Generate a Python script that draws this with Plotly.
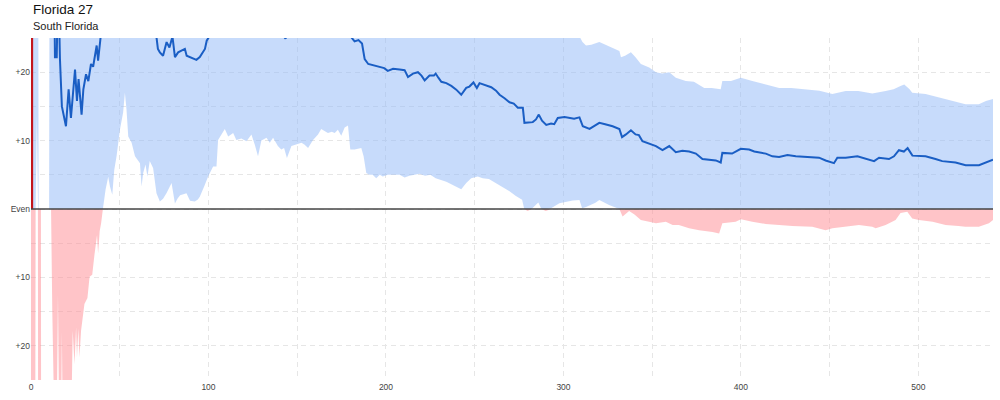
import numpy as np
import plotly.graph_objects as go

# projected margin (positive = up, the blue side)
est_x = [13.3, 13.5, 14.5, 14.8, 15.9, 16.3, 17.4, 19.7, 21.2, 22.5, 24.8, 25.9, 26.8, 28.5, 29.5,
         31.0, 32.3, 33.8, 35.0, 37.0, 37.8, 39.3, 40, 55, 70, 70.8, 71.5, 72.6, 74.4, 76.4, 78,
         79.7, 81.1, 82.9, 84.6, 86.7, 87.7, 89.6, 91.4, 93.2, 95.1, 96.9, 98.0, 99.0, 100.6, 101.5,
         120, 140, 143.4, 145, 165, 179, 180.5, 182.3, 184.5, 186.5, 188.0, 190.0, 193.0, 196.5, 199,
         201, 204, 207.7, 210.5, 212.4, 215.2, 218.0, 220, 221.8, 224.5, 227, 228, 229.5, 231.2, 234,
         236.8, 239.6, 242.4, 245.2, 247, 249.3, 251.2, 252.7, 255.5, 259.3, 262, 264, 266.8, 269.6,
         272, 274.3, 277.1, 278, 282.7, 284.5, 286.1, 287.9, 290.3, 293, 294.8, 296.8, 300.6, 303.4,
         306, 309, 310.9, 314.7, 317.5, 320.2, 323.5, 327.7, 331.5, 333.0, 335.2, 338, 340.6, 342.5,
         344.5, 348.3, 352.1, 355.8, 359.6, 363.3, 367, 370.8, 374.6, 378.3, 382, 385.8, 388.6, 389.5,
         395, 399.9, 404.6, 407.5, 414, 417.7, 421.5, 426.2, 430.9, 438.4, 444, 447.7, 452.4, 454.3,
         459, 465.6, 470.3, 475, 477.8, 483.4, 486.2, 489.0, 491.8, 493.9, 496.6, 504, 509.6, 513.4,
         520.9, 526.6, 534.1, 538, 542]
est = [27, 22.2, 22.2, 27, 27, 22.0, 15.0, 12.1, 17.5, 13.3, 20.4, 15.8, 19.0, 13.8, 17.5,
       19.7, 18.7, 21.2, 20.8, 23.9, 21.7, 25.3, 27, 30, 26, 24.9, 23.4, 22.9, 22.4, 24.4, 23.6,
       25.2, 22.2, 22.9, 23.1, 23.4, 22.4, 22.2, 21.9, 21.8, 22.2, 22.9, 23.4, 24.6, 25.3, 27,
       29, 26, 24.9, 26, 28, 26, 25.1, 24.5, 24.7, 24.2, 21.9, 21.2, 21.0, 20.7, 20.6,
       20.2, 20.5, 20.4, 20.3, 19.3, 19.8, 20.0, 19.5, 18.8, 19.5, 19.5, 19.8, 19.2, 18.6, 18.4,
       18.0, 17.45, 16.7, 17.7, 17.9, 18.5, 17.7, 18.4, 18.1, 17.8, 17.3, 16.7, 16.2, 15.6,
       15.4, 14.8, 14.8, 12.6, 12.7, 13.1, 13.8, 12.9, 12.3, 12.5, 12.4, 13.3, 13.45, 13.3,
       13.2, 13.4, 12.1, 11.7, 12.1, 12.6, 12.4, 12.1, 11.7, 10.5, 10.9, 11.5, 10.9, 10.8,
       9.9, 9.6, 9.2, 8.6, 9.2, 8.3, 8.5, 8.4, 8.1, 7.3, 7.2, 7.1, 6.8, 8.2,
       8.1, 8.8, 8.7, 8.4, 8.1, 7.7, 7.6, 7.9, 7.7, 7.6, 7.5, 7.1, 6.7, 7.5,
       7.5, 7.7, 7.3, 7.0, 7.5, 7.3, 7.7, 8.6, 8.4, 8.9, 7.8, 7.7, 7.3, 7.0,
       6.8, 6.4, 6.4, 6.8, 7.2]

# first reported point, drawn in red
first_x = [0.5, 0.5]
first_margin = [0, 26]

# upper edge of the range
upper_x = [0, 4.1, 4.3, 5.6, 5.7, 10.2, 10.4, 300, 308.5, 310.7, 312.7, 315.7, 320.2, 323.7, 327.7,
           331.5, 332.4, 334.7, 338, 340.6, 343.6, 348.3, 352.1, 355.6, 359.6, 363.3, 368.9, 373.5,
           379.3, 383.5, 388.6, 389.5, 394.4, 399.9, 406.4, 414, 421.5, 428.3, 436.4, 444.2, 451.5,
           459, 466.1, 474, 481.5, 486, 489.9, 492, 495, 496.5, 504, 511.5, 519, 526.5, 534, 538, 542]
upper = [32, 32, 0, 0, -40, -40, 32, 32, 25.5, 24.4, 23.9, 24.0, 24.4, 24.0, 23.6,
         23.1, 22.2, 22.4, 22.9, 22.2, 21.2, 20.7, 20.0, 19.8, 20.0, 19.2, 18.7, 18.6,
         17.7, 17.7, 17.5, 18.7, 18.7, 19.2, 18.7, 18.2, 17.7, 17.7, 17.5, 17.3, 16.8,
         17.25, 17.25, 16.9, 17.25, 17.5, 18.0, 18.2, 17.5, 17.0, 16.8, 16.3, 15.8, 15.3, 15.3, 15.8, 16.1]

# lower edge of the range
lower_x = [0, 2.4, 2.6, 3.3, 3.9, 4.0, 5.6, 5.7, 10.2, 10.4, 11.3, 12.0, 13.2, 14.6, 15.2, 15.9,
           17.0, 17.4, 17.9, 22.6, 23.5, 24.5, 25.4, 25.9, 26.7, 27.3, 28.2, 30.1, 31.1, 31.8, 33.0,
           34.5, 35.7, 36.7, 37.2, 37.8, 38.7, 39.5, 40.5, 42.0, 43.5, 44.5, 45.8, 46.9, 48.2, 50.1,
           51.9, 52.9, 53.8, 54.8, 56.7, 58.6, 61.4, 62.3, 63.2, 64.5, 65.6, 66.9, 68.8, 70.7, 72.6,
           74.4, 76.3, 79.2, 81.1, 82.5, 84.0, 87.6, 89.6, 92.3, 94.0, 95.1, 96.0, 97.9, 99.8, 102.6,
           104.5, 105.4, 107.3, 109.2, 111.1, 113.9, 115.7, 118.5, 121.4, 124.2, 126.1, 127.9, 129.8,
           132.7, 134.5, 136.4, 139.1, 141.0, 142.6, 144.2, 146.7, 149.5, 152.4, 154.2, 156.1, 158.9,
           161.7, 163.5, 165.4, 167.3, 169.5, 171.1, 172.9, 174.8, 176.7, 178.6, 179.9, 182.3, 186.1,
           187.4, 188.9, 190.7, 192.5, 194.5, 196.5, 198.2, 201, 203.9, 207.7, 210.5, 213.2, 218.9,
           222, 225, 228, 234, 237.5, 242.4, 245.2, 248, 251.7, 254.5, 258, 262.1, 265.5, 269.6,
           273.2, 276.7, 277.9, 279.8, 282, 285.8, 287.6, 290.0, 293, 297.7, 301.5, 305.2, 309, 310.5,
           312.7, 315.7, 318, 320.2, 325.7, 331.5, 333.3, 337, 340, 343.6, 348.3, 352.1, 357.7, 361.5,
           365, 370.8, 376.5, 384, 387.7, 389.5, 397, 400, 406.4, 414, 421.5, 429, 440.2, 447.7,
           451.5, 459, 466.5, 474, 475.9, 481.5, 487.1, 489.9, 493.7, 496.5, 500.3, 508, 515.3, 522.6,
           526.5, 534, 539.7, 542]
lower = [-32, -32, 0, 13.6, 0, -32, -32, -40, -40, 0, 0, -15, -32, -28, -12.5, -32,
         -30, -18, -32, -32, -17.8, -22.7, -17.3, -21.7, -17.5, -21.7, -17.8, -13.9, -13.4, -13.0, -9.9,
         -9.6, -6.8, -4.5, -3.8, -6.5, -3.2, -2.1, 0, 2.8, 4.7, 3.3, 2.1, 5.7, 7.7, 11.6,
         14.1, 17.0, 14.6, 10.6, 9.7, 7.7, 6.7, 3.3, 5.25, 6.5, 4.75, 7.0, 6.0, 2.3, 1.1,
         1.5, 2.3, 3.8, 0.8, 1.5, 2.0, 2.3, 1.2, 1.1, 1.4, 1.8, 2.3, 3.5, 4.75, 6.2,
         6.2, 10.1, 10.9, 11.7, 10.6, 11.1, 10.1, 10.3, 9.9, 10.9, 9.4, 7.7, 10.0,
         10.4, 9.7, 10.4, 9.2, 8.7, 8.9, 7.45, 9.2, 9.4, 9.7, 9.4, 8.9, 10.1,
         10.9, 11.7, 11.4, 11.1, 11.3, 11.1, 11.6, 10.7, 11.9, 12.2, 8.7, 8.7, 8.9,
         7.7, 5.25, 5.0, 5.0, 4.5, 5.0, 4.75, 5.0, 5.0, 5.0, 4.6, 4.85, 5.15,
         4.85, 5.0, 4.5, 4.0, 3.5, 2.9, 3.8, 4.5, 4.75, 4.5, 4.4, 3.8, 3.2, 2.6,
         1.9, 1.35, 0, -0.3, 0.0, 0.95, 0.0, -0.3, 0.1, 0.85, 1.1, 1.25, 1.3, 0.1,
         0.3, 0.6, 0.9, 1.3, 0.6, 0, -1.1, -0.3, -0.8, -1.6, -1.85, -2.1, -1.85, -2.35,
         -2.35, -2.8, -3.1, -3.35, -3.6, -2.1, -1.85, -1.5, -1.85, -2.2, -2.35, -2.5, -2.6, -3.1,
         -2.8, -2.6, -2.35, -2.6, -2.8, -2.35, -1.6, -0.6, -0.4, -1.4, -1.6, -1.85, -2.35, -2.5,
         -2.6, -2.6, -2.1, -1.6]

y_ticks = [-25, -20, -15, -10, -5, 0, 5, 10, 15, 20, 25]
y_labels = ["", "+20", "", "+10", "", "Even", "", "+10", "", "+20", ""]
x_ticks = [0, 50, 100, 150, 200, 250, 300, 350, 400, 450, 500]
x_labels = ["0", "", "100", "", "200", "", "300", "", "400", "", "500"]

upper = np.array(upper)
lower = np.array(lower)

BLUE_FILL = "rgba(143,184,248,0.5)"
RED_FILL = "rgba(255,138,146,0.5)"

fig = go.Figure()
# blue part of the range (above even)
fig.add_trace(go.Scatter(x=upper_x, y=np.maximum(upper, 0), mode="lines",
                         line=dict(width=0), hoverinfo="skip", showlegend=False))
fig.add_trace(go.Scatter(x=lower_x, y=np.maximum(lower, 0), mode="lines", fill="tonexty",
                         fillcolor=BLUE_FILL, line=dict(width=0), hoverinfo="skip", showlegend=False))
# red part of the range (below even)
fig.add_trace(go.Scatter(x=upper_x, y=np.minimum(upper, 0), mode="lines",
                         line=dict(width=0), hoverinfo="skip", showlegend=False))
fig.add_trace(go.Scatter(x=lower_x, y=np.minimum(lower, 0), mode="lines", fill="tonexty",
                         fillcolor=RED_FILL, line=dict(width=0), hoverinfo="skip", showlegend=False))

fig.add_trace(go.Scatter(x=first_x, y=first_margin, mode="lines",
                         line=dict(color="#c3151c", width=2.5), showlegend=False))
fig.add_trace(go.Scatter(x=est_x, y=est, mode="lines",
                         line=dict(color="#1a5ec4", width=2), showlegend=False))

fig.add_shape(type="line", xref="paper", x0=0, x1=1, yref="y", y0=0, y1=0,
              line=dict(color="#444", width=1.5), layer="above")

fig.add_annotation(text="Florida 27", xref="paper", yref="paper", x=0, y=1.083,
                   xanchor="left", yanchor="middle", showarrow=False,
                   font=dict(size=13.5, color="#111"))
fig.add_annotation(text="South Florida", xref="paper", yref="paper", x=0, y=1.034,
                   xanchor="left", yanchor="middle", showarrow=False,
                   font=dict(size=11, color="#222"))

fig.update_layout(
    width=1000, height=400,
    margin=dict(l=31, r=7, t=38, b=20),
    paper_bgcolor="white", plot_bgcolor="white",
    font=dict(family="Liberation Sans, Arial, sans-serif", color="#444"),
    showlegend=False,
)
fig.update_xaxes(range=[0, 542], tickvals=x_ticks, ticktext=x_labels, automargin=False,
                 showgrid=True, gridcolor="#e6e6e6", griddash="5px,4px", gridwidth=1,
                 zeroline=False, showline=False, ticks="", tickfont=dict(size=8.5, color="#444"))
fig.update_yaxes(range=[-25, 25], tickvals=y_ticks, ticktext=y_labels, automargin=False,
                 showgrid=True, gridcolor="#e6e6e6", griddash="5px,4px", gridwidth=1,
                 zeroline=False, showline=False, ticks="", tickfont=dict(size=8.5, color="#444"))

# drop the browser's default body margin so the figure sits at the page corner
fig.write_html("out.html", config={"displayModeBar": False},
               post_script="document.body.style.margin='0px';")
